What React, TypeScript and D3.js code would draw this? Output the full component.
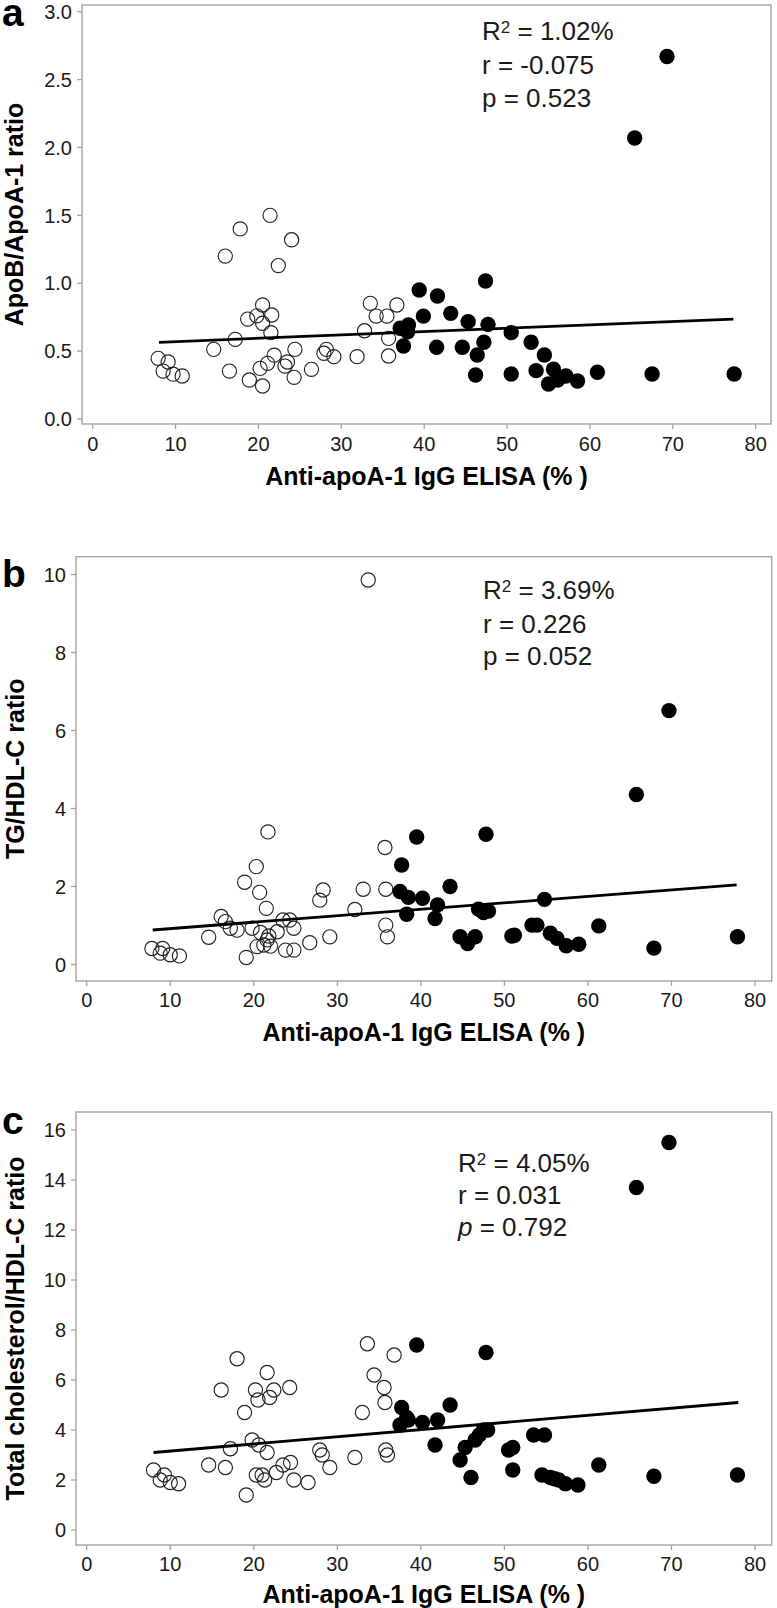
import React from "react";
import * as d3 from "d3";

// ---------- DATA ----------
const xTicks = [0, 10, 20, 30, 40, 50, 60, 70, 80];

// Panel a: ApoB/ApoA-1 ratio
const aOpenX = [7.9, 9.1, 8.5, 9.7, 10.8, 14.6, 16.0, 16.5, 17.2, 17.8, 18.7, 18.9, 19.8, 20.5, 21.6, 20.5, 21.5, 20.2, 20.5, 21.1, 21.4, 21.9, 22.4, 23.2, 23.5, 24.0, 24.4, 24.3, 26.4, 27.9, 28.2, 29.1, 31.9, 32.8, 33.5, 34.2, 35.5, 35.7, 35.7, 36.7];
const aOpenY = [0.447, 0.42, 0.353, 0.33, 0.317, 0.513, 1.2, 0.353, 0.587, 1.4, 0.736, 0.287, 0.76, 0.84, 0.766, 0.705, 0.636, 0.373, 0.243, 0.41, 1.5, 0.47, 1.13, 0.39, 0.42, 1.32, 0.513, 0.307, 0.366, 0.484, 0.513, 0.459, 0.459, 0.65, 0.852, 0.758, 0.758, 0.594, 0.464, 0.84];
const aFilledX = [37.1, 37.5, 38.0, 38.1, 39.4, 39.9, 41.5, 41.6, 43.2, 44.6, 45.3, 46.2, 46.4, 47.2, 47.4, 47.7, 50.5, 50.5, 52.9, 53.5, 54.5, 55.0, 55.6, 56.1, 57.1, 58.5, 60.9, 65.4, 67.5, 69.3, 77.4];
const aFilledY = [0.668, 0.538, 0.643, 0.692, 0.95, 0.758, 0.528, 0.906, 0.778, 0.528, 0.717, 0.324, 0.471, 0.565, 1.016, 0.697, 0.636, 0.331, 0.565, 0.356, 0.471, 0.258, 0.366, 0.287, 0.317, 0.28, 0.344, 2.07, 0.331, 2.67, 0.331];
const aFitX = [8.0, 77.3];
const aFitY = [0.565, 0.736];
const aYTicks = [0, 0.5, 1.0, 1.5, 2.0, 2.5, 3.0];
const aStats = ["1.02%", "-0.075", "0.523"];

// Panel b: TG/HDL-C ratio
const bOpenX = [7.8, 9.1, 8.8, 10.0, 11.1, 14.6, 16.1, 16.6, 17.2, 18.0, 18.9, 19.1, 20.3, 20.7, 21.5, 21.7, 19.8, 20.4, 20.8, 21.2, 21.6, 21.8, 22.8, 22.0, 23.5, 24.3, 24.8, 23.8, 24.8, 26.7, 27.9, 28.3, 29.1, 32.1, 33.1, 33.7, 35.7, 35.8, 35.8, 36.0];
const bOpenY = [0.41, 0.41, 0.29, 0.25, 0.22, 0.7, 1.23, 1.1, 0.93, 0.88, 2.11, 0.18, 2.51, 1.85, 1.44, 3.4, 0.93, 0.46, 0.82, 0.5, 0.63, 0.73, 0.84, 0.47, 1.14, 1.14, 0.93, 0.37, 0.37, 0.56, 1.65, 1.91, 0.71, 1.41, 1.93, 9.86, 3.0, 1.93, 1.01, 0.71];
const bFilledX = [37.5, 37.7, 38.3, 38.5, 39.5, 40.2, 41.7, 42.0, 43.5, 44.7, 45.6, 46.5, 46.9, 47.5, 47.8, 48.1, 50.9, 51.2, 53.3, 53.9, 54.8, 55.5, 56.3, 57.4, 58.9, 61.3, 65.8, 67.9, 69.7, 77.9];
const bFilledY = [1.87, 2.55, 1.29, 1.72, 3.27, 1.7, 1.18, 1.53, 2.0, 0.71, 0.54, 0.71, 1.42, 1.33, 3.34, 1.37, 0.73, 0.75, 1.01, 1.01, 1.67, 0.8, 0.67, 0.48, 0.52, 0.99, 4.36, 0.42, 6.51, 0.71];
const bFitX = [7.9, 77.8];
const bFitY = [0.885, 2.04];
const bYTicks = [0, 2, 4, 6, 8, 10];
const bStats = ["3.69%", "0.226", "0.052"];

// Panel c: Total cholesterol/HDL-C ratio
const cOpenX = [8.0, 8.8, 9.3, 10.0, 11.0, 14.6, 16.1, 16.6, 17.2, 18.0, 18.9, 19.1, 19.8, 20.2, 20.3, 20.5, 20.6, 21.0, 21.3, 21.6, 21.6, 21.9, 22.4, 22.7, 23.5, 24.3, 24.4, 24.8, 26.5, 27.9, 28.2, 29.1, 32.1, 33.0, 33.6, 34.4, 35.6, 35.7, 35.8, 36.0, 36.8];
const cOpenY = [2.4, 2.0, 2.2, 1.9, 1.85, 2.6, 5.6, 2.5, 3.25, 6.85, 4.7, 1.4, 3.6, 5.6, 2.2, 5.2, 3.4, 2.2, 2.0, 6.3, 3.1, 5.3, 5.6, 2.3, 2.6, 5.7, 2.7, 2.0, 1.9, 3.2, 3.0, 2.5, 2.9, 4.7, 7.45, 6.2, 5.7, 5.1, 3.2, 3.0, 7.0];
const cFilledX = [37.5, 37.7, 38.3, 38.5, 39.5, 40.2, 41.7, 42.0, 43.5, 44.7, 45.3, 46.0, 46.5, 47.0, 47.5, 47.8, 48.0, 50.5, 51.0, 51.0, 53.5, 54.5, 54.8, 55.5, 56.0, 56.5, 57.3, 58.8, 61.3, 65.8, 67.9, 69.7, 77.9];
const cFilledY = [4.2, 4.9, 4.5, 4.4, 7.4, 4.3, 3.4, 4.4, 5.0, 2.8, 3.3, 2.1, 3.6, 3.8, 4.0, 7.1, 4.0, 3.2, 3.3, 2.4, 3.8, 2.2, 3.8, 2.1, 2.05, 2.0, 1.85, 1.8, 2.6, 13.7, 2.15, 15.5, 2.2];
const cFitX = [8.0, 78.0];
const cFitY = [3.1, 5.1];
const cYTicks = [0, 2, 4, 6, 8, 10, 12, 14, 16];
const cStats = ["4.05%", "0.031", "0.792"];

const xTitle = "Anti-apoA-1 IgG ELISA (% )";

// ---------- LAYOUT ----------
const FONT = "'Liberation Sans', Arial, Helvetica, sans-serif";
const W = 777;
const H = 1608;

type Panel = {
  label: string;
  labelY: number;
  frame: { l: number; t: number; r: number; b: number };
  xRange: [number, number];
  yDomain: [number, number];
  yRange: [number, number];
  yTicks: number[];
  yFmt: (v: number) => string;
  yTitle: string;
  yTitleX: number;
  xLabelY: number;
  xTitleY: number;
  statsX: number;
  statsY: number[];
  stats: string[];
  italicP: boolean;
  openX: number[];
  openY: number[];
  filledX: number[];
  filledY: number[];
  fitX: number[];
  fitY: number[];
};

const panels: Panel[] = [
  {
    label: "a", labelY: 26,
    frame: { l: 82, t: 5, r: 771, b: 424 },
    xRange: [92.7, 755.7], yDomain: [0, 3], yRange: [419, 11.7],
    yTicks: aYTicks, yFmt: d3.format(".1f"),
    yTitle: "ApoB/ApoA-1 ratio", yTitleX: 22.5,
    xLabelY: 451, xTitleY: 485,
    statsX: 482, statsY: [40, 74, 107], stats: aStats, italicP: false,
    openX: aOpenX, openY: aOpenY, filledX: aFilledX, filledY: aFilledY, fitX: aFitX, fitY: aFitY,
  },
  {
    label: "b", labelY: 587,
    frame: { l: 76, t: 556.7, r: 771.7, b: 981 },
    xRange: [86.7, 755], yDomain: [0, 10], yRange: [964.5, 574.5],
    yTicks: bYTicks, yFmt: d3.format("d"),
    yTitle: "TG/HDL-C ratio", yTitleX: 23.5,
    xLabelY: 1007, xTitleY: 1041,
    statsX: 483, statsY: [599, 632.5, 665], stats: bStats, italicP: false,
    openX: bOpenX, openY: bOpenY, filledX: bFilledX, filledY: bFilledY, fitX: bFitX, fitY: bFitY,
  },
  {
    label: "c", labelY: 1134,
    frame: { l: 76, t: 1112, r: 771.7, b: 1545 },
    xRange: [86.7, 755], yDomain: [0, 16], yRange: [1530, 1130],
    yTicks: cYTicks, yFmt: d3.format("d"),
    yTitle: "Total cholesterol/HDL-C ratio", yTitleX: 23.5,
    xLabelY: 1571, xTitleY: 1603,
    statsX: 458, statsY: [1172, 1204, 1236], stats: cStats, italicP: true,
    openX: cOpenX, openY: cOpenY, filledX: cFilledX, filledY: cFilledY, fitX: cFitX, fitY: cFitY,
  },
];

const FRAME = "#a3a3a3";
const INK = "#1a1a1a";

function PanelView({ p }: { p: Panel }) {
  const x = d3.scaleLinear().domain([0, 80]).range(p.xRange);
  const y = d3.scaleLinear().domain(p.yDomain).range(p.yRange);
  const { l, t, r, b } = p.frame;
  const line = d3.line<number>().x((_, i) => x(p.fitX[i])).y((_, i) => y(p.fitY[i]));
  const fitPath = line(p.fitX.map((_, i) => i)) || "";
  return (
    <g>
      <text x={2} y={p.labelY} fontFamily={FONT} fontWeight="bold" fontSize={39} fill="#000">{p.label}</text>
      <rect x={l} y={t} width={r - l} height={b - t} fill="none" stroke={FRAME} strokeWidth={1.4} />
      {p.yTicks.map((v) => (
        <g key={"y" + v}>
          <line x1={l - 5} x2={l} y1={y(v)} y2={y(v)} stroke={FRAME} strokeWidth={1.3} />
          <text x={l - 10} y={y(v)} dy="0.36em" textAnchor="end" fontFamily={FONT} fontSize={20} fill={INK}>{p.yFmt(v)}</text>
        </g>
      ))}
      {xTicks.map((v) => (
        <g key={"x" + v}>
          <line x1={x(v)} x2={x(v)} y1={b} y2={b + 5} stroke={FRAME} strokeWidth={1.3} />
          <text x={x(v)} y={p.xLabelY} textAnchor="middle" fontFamily={FONT} fontSize={20} fill={INK}>{v}</text>
        </g>
      ))}
      <text x={(l + r) / 2} y={p.xTitleY} textAnchor="middle" fontFamily={FONT} fontWeight="bold" fontSize={25} fill="#000">{xTitle}</text>
      <text transform={`translate(${p.yTitleX},${(t + b) / 2}) rotate(-90)`} textAnchor="middle" fontFamily={FONT} fontWeight="bold" fontSize={25} fill="#000">{p.yTitle}</text>
      {p.openX.map((v, i) => (
        <circle key={"o" + i} cx={x(v)} cy={y(p.openY[i])} r={7.1} fill="none" stroke="#222" strokeWidth={1.15} />
      ))}
      <path d={fitPath} stroke="#000" strokeWidth={2.8} fill="none" />
      {p.filledX.map((v, i) => (
        <circle key={"f" + i} cx={x(v)} cy={y(p.filledY[i])} r={7.7} fill="#000" />
      ))}
      <g fontFamily={FONT} fontSize={26} fill={INK}>
        <text x={p.statsX} y={p.statsY[0]}>
          R<tspan fontSize={17} dy={-7}>2</tspan><tspan dy={7}>{" = " + p.stats[0]}</tspan>
        </text>
        <text x={p.statsX} y={p.statsY[1]}>{"r = " + p.stats[1]}</text>
        <text x={p.statsX} y={p.statsY[2]}>
          <tspan fontStyle={p.italicP ? "italic" : "normal"}>p</tspan>{" = " + p.stats[2]}
        </text>
      </g>
    </g>
  );
}

export default function App() {
  return (
    <svg width={W} height={H} viewBox={`0 0 ${W} ${H}`} style={{ position: "absolute", left: 0, top: 0, display: "block", background: "#fff" }}>
      <rect x={0} y={0} width={W} height={H} fill="#fff" />
      {panels.map((p) => (
        <PanelView key={p.label} p={p} />
      ))}
    </svg>
  );
}
